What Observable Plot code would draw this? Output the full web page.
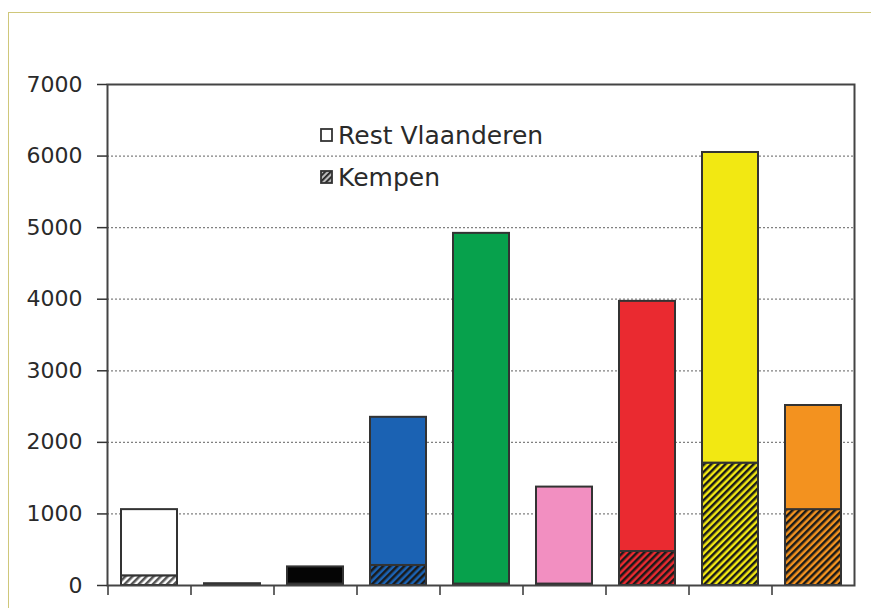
<!DOCTYPE html>
<html><head><meta charset="utf-8">
<script src="https://cdn.jsdelivr.net/npm/d3@7"></script>
<script src="https://cdn.jsdelivr.net/npm/@observablehq/plot@0.6"></script>
<style>
body{margin:0;background:#fff;font-family:"DejaVu Sans",sans-serif;}
#wrap{position:relative;width:871px;height:608px;overflow:hidden;background:#fff;}
#border{position:absolute;left:8px;top:12px;width:900px;height:700px;border-top:1.5px solid #cfc77a;border-left:1.5px solid #cfc77a;}
#chart{position:absolute;left:0;top:0;}
#legend{position:absolute;left:320px;top:114px;font-family:"DejaVu Sans",sans-serif;font-size:25px;color:#2a2a2a;}
.item{display:flex;align-items:center;height:42px;}
.item svg{margin-right:5px;}
</style></head><body>
<div id="wrap"><div id="border"></div><div id="chart"></div><div id="legend"></div></div>
<script>
const categories = ["1","2","3","4","5","6","7","8","9"];
const barColors = ["#ffffff","#f4f4f4","#050505","#1b62b3","#07a14c","#f28fc1","#ea2a30","#f2e812","#f3921f"];
const kempen = [135, 5, 20, 280, 20, 20, 475, 1710, 1060];
const restVlaanderen = [925, 20, 240, 2070, 4900, 1355, 3495, 4340, 1455];
const seriesNames = ["Rest Vlaanderen", "Kempen"];
const yTicks = [0, 1000, 2000, 3000, 4000, 5000, 6000, 7000];

const rows = [];
categories.forEach((c, i) => rows.push({cat: c, series: "Kempen", value: kempen[i], fill: `url(#hatch${i})`}));
categories.forEach((c, i) => rows.push({cat: c, series: "Rest Vlaanderen", value: restVlaanderen[i], fill: barColors[i]}));

const W = 871, H = 608, mL = 107, mR = 17, mT = 84, mB = 23;
const step = (W - mL - mR) / categories.length;
const plotH = H - mT - mB;

const svg = Plot.plot({
  width: W, height: H,
  marginLeft: mL, marginRight: mR, marginTop: mT, marginBottom: mB,
  style: {fontFamily: "DejaVu Sans, sans-serif", fontSize: "22px", color: "#2a2a2a", background: "transparent"},
  x: {domain: categories, paddingInner: 0.33, paddingOuter: 0.165, axis: null},
  y: {domain: [0, 7000], axis: null},
  color: {type: "identity"},
  marks: [
    Plot.gridY(yTicks.filter(d => d > 0 && d < 7000), {stroke: "#555", strokeOpacity: 0.75, strokeWidth: 1.3, strokeDasharray: "2,2"}),
    Plot.barY(rows, {x: "cat", y: "value", fill: "fill", stroke: "#333", strokeWidth: 2}),
    Plot.ruleX(categories, {x: d => d, dx: -step / 2, insetTop: plotH, insetBottom: -10, stroke: "#333", strokeWidth: 1.5}),
    Plot.frame({stroke: "#444", strokeWidth: 2}),
    Plot.axisY(yTicks, {tickSize: 10, tickPadding: 15, label: null, fontSize: 22, tickFormat: d => String(d), stroke: "#333", strokeWidth: 1.5})
  ]
});

const ns = "http://www.w3.org/2000/svg";
function makePattern(id, color, stripe) {
  const p = document.createElementNS(ns, "pattern");
  p.setAttribute("id", id);
  p.setAttribute("width", "5");
  p.setAttribute("height", "5");
  p.setAttribute("patternUnits", "userSpaceOnUse");
  p.setAttribute("patternTransform", "rotate(45)");
  const r = document.createElementNS(ns, "rect");
  r.setAttribute("width", "5"); r.setAttribute("height", "5"); r.setAttribute("fill", color);
  const s = document.createElementNS(ns, "rect");
  s.setAttribute("width", "2.5"); s.setAttribute("height", "5"); s.setAttribute("fill", stripe);
  p.appendChild(r); p.appendChild(s);
  return p;
}
const defs = document.createElementNS(ns, "defs");
barColors.forEach((c, i) => defs.appendChild(makePattern(`hatch${i}`, c, i === 0 ? "#555" : "#1a1a1a")));
svg.insertBefore(defs, svg.firstChild);
document.getElementById("chart").appendChild(svg);

const legend = document.getElementById("legend");
seriesNames.forEach((name, i) => {
  const item = document.createElement("div");
  item.className = "item";
  const fill = i === 0 ? "#fff" : "url(#legHatch)";
  item.innerHTML = `<svg width="13" height="14"><defs><pattern id="legHatch" width="4" height="4" patternUnits="userSpaceOnUse" patternTransform="rotate(45)"><rect width="4" height="4" fill="#bbb"/><rect width="1.8" height="4" fill="#222"/></pattern></defs><rect x="1" y="1" width="11" height="12" fill="${fill}" stroke="#333" stroke-width="1.8"/></svg><span>${name}</span>`;
  legend.appendChild(item);
});
</script>
</body></html>
